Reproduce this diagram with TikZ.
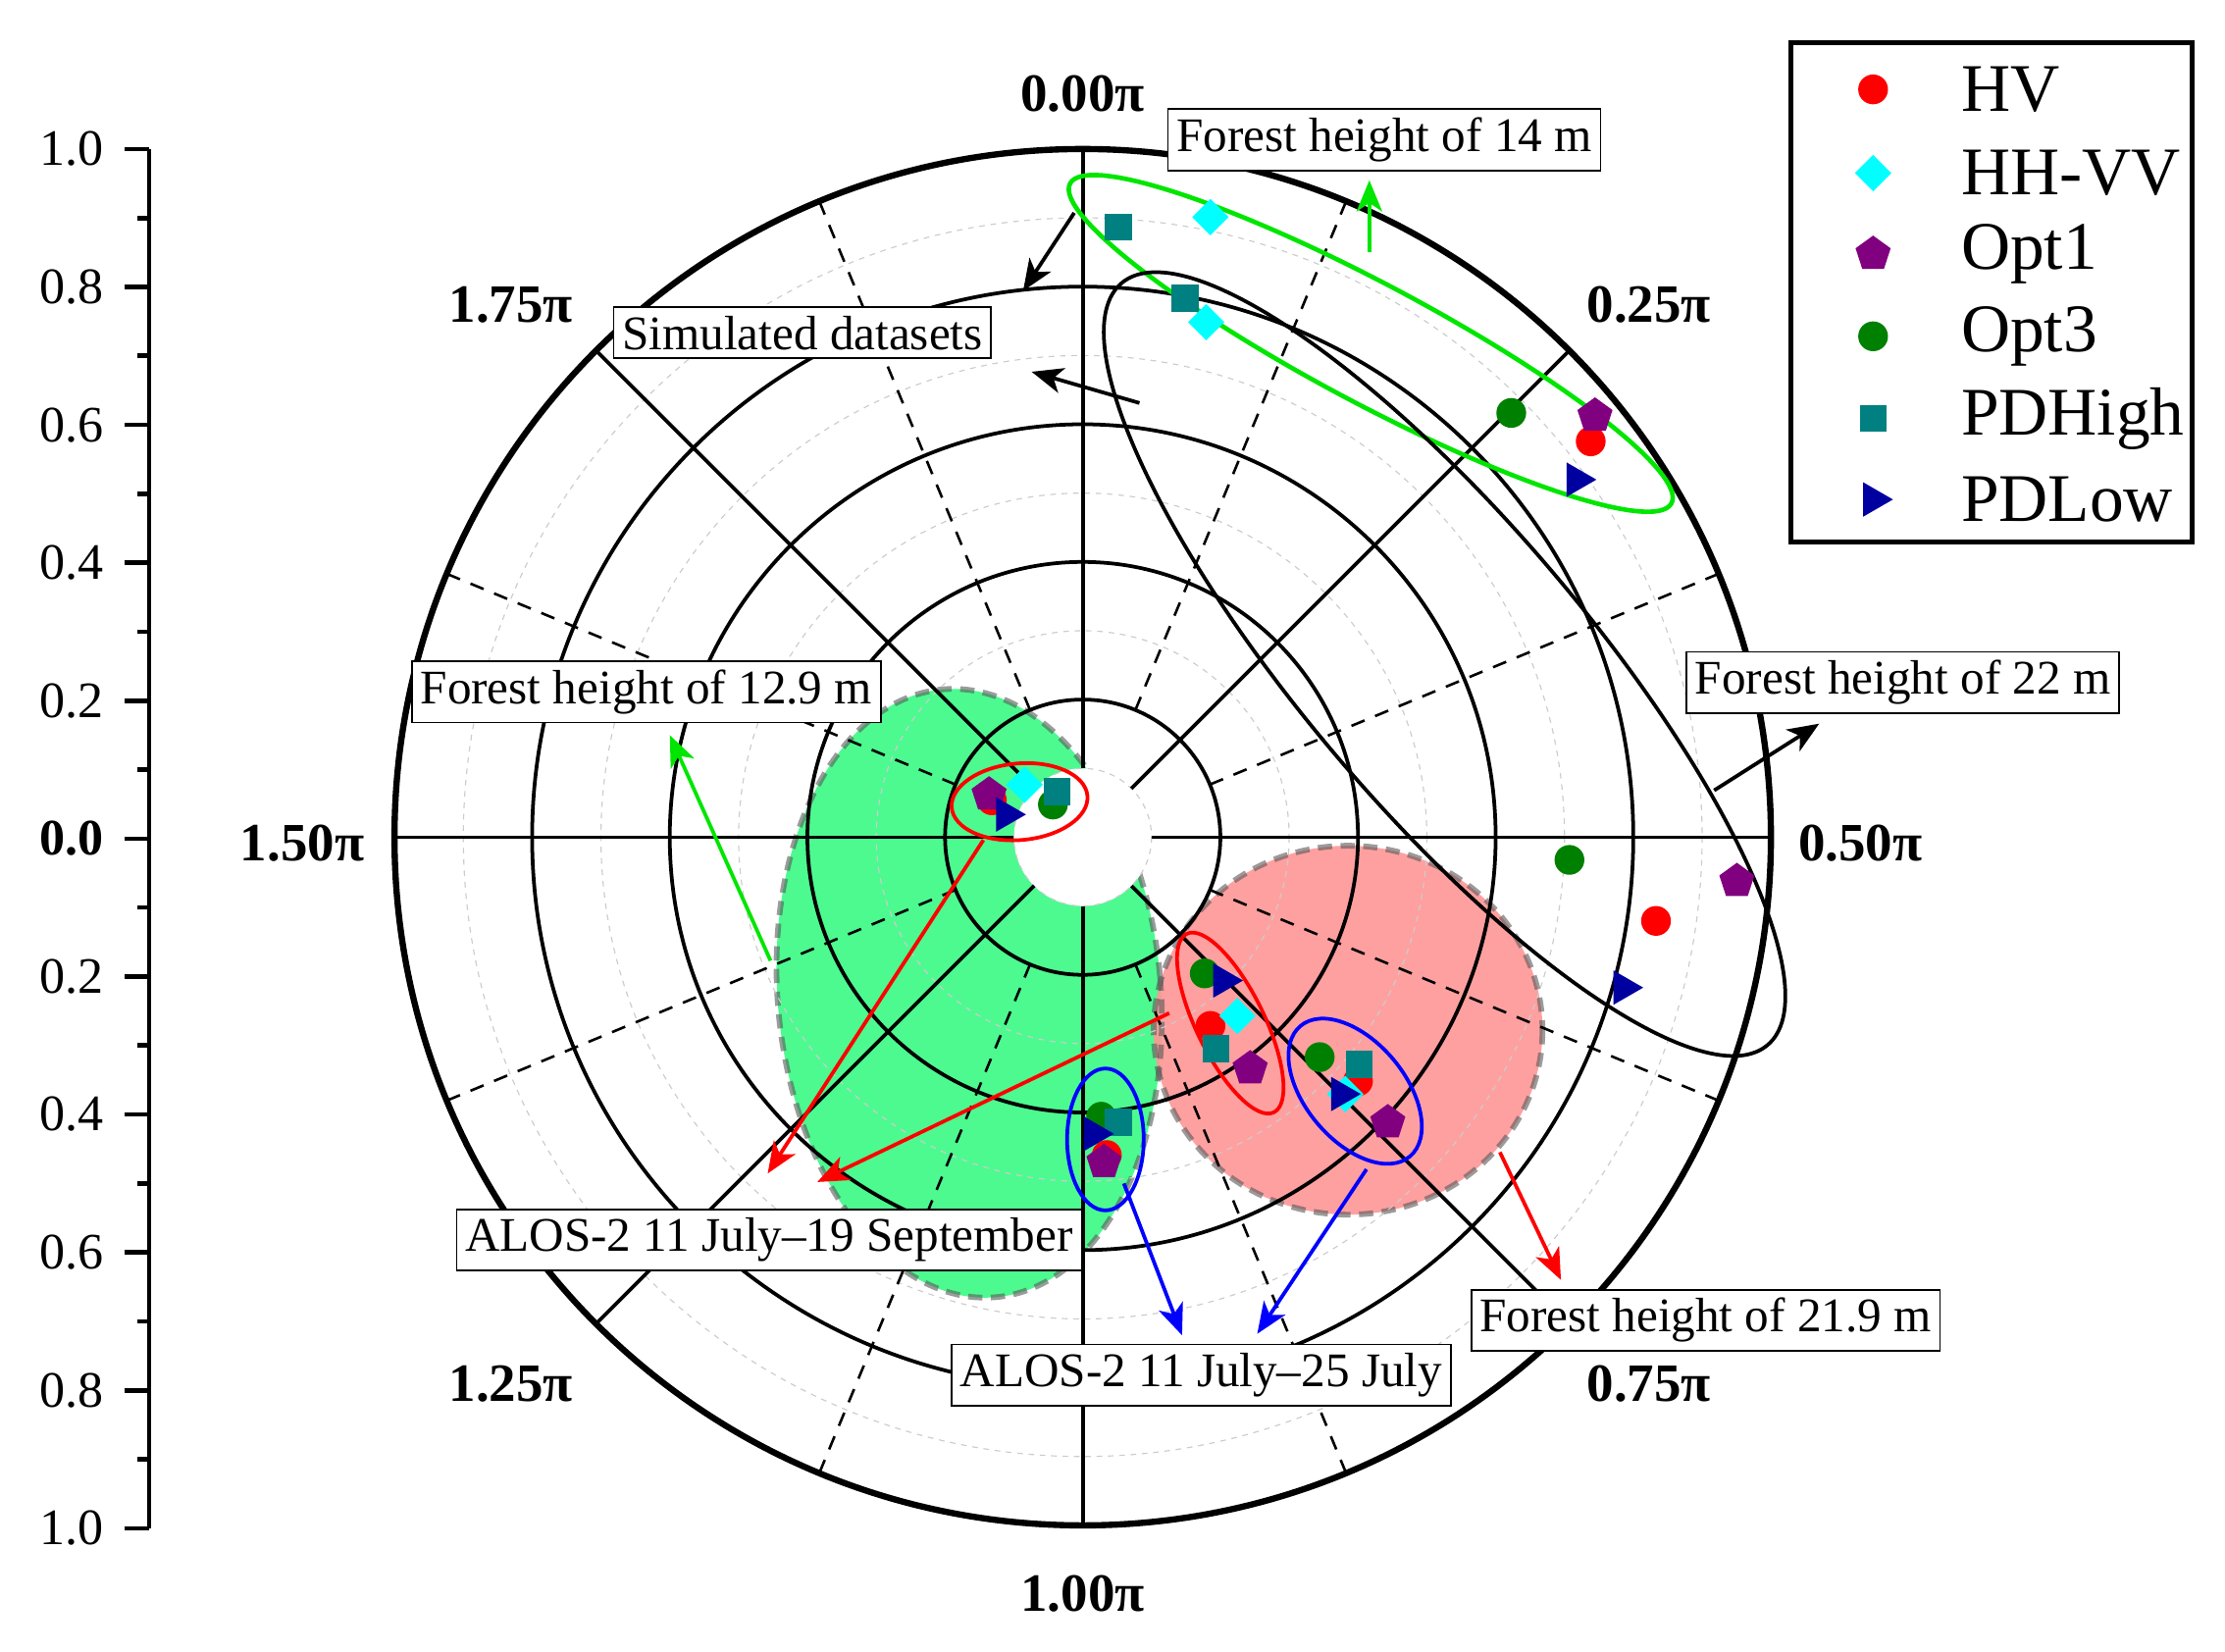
\documentclass[tikz,border=0pt]{standalone}
\usepackage{fontspec}
\setmainfont{Liberation Serif}
\usetikzlibrary{shapes.geometric,arrows.meta,calc}
\definecolor{gfill}{RGB}{77,250,144}
\definecolor{rfill}{RGB}{255,150,150}
\definecolor{lgreen}{RGB}{0,230,0}
\definecolor{mgreen}{RGB}{0,128,0}
\definecolor{mteal}{RGB}{0,128,128}
\definecolor{mnavy}{RGB}{0,0,160}
\definecolor{mpurple}{RGB}{128,0,128}
\definecolor{mcyan}{RGB}{0,255,255}
\begin{document}
\begin{tikzpicture}[x=0.5pt,y=-0.5pt,
  lab/.style={draw,fill=white,font=\fontsize{17}{19}\selectfont,inner sep=3pt,line width=0.6pt},
  albl/.style={font=\bfseries\fontsize{19}{21}\selectfont},
  tlbl/.style={font=\fontsize{18}{20}\selectfont,anchor=east},
  legt/.style={font=\fontsize{24}{26}\selectfont,anchor=west},
  mHV/.style={circle,fill=red,inner sep=0,minimum size=10.5pt},
  mHH/.style={diamond,fill=mcyan,inner sep=0,minimum size=13pt},
  mO1/.style={regular polygon,regular polygon sides=5,fill=mpurple,inner sep=0,minimum size=13pt},
  mO3/.style={circle,fill=mgreen,inner sep=0,minimum size=10.5pt},
  mPH/.style={rectangle,fill=mteal,inner sep=0,minimum size=9.5pt},
  mPL/.style={regular polygon,regular polygon sides=3,shape border rotate=-90,fill=mnavy,inner sep=0,minimum size=14pt},
  arr/.style={line width=1.3pt,-{Stealth[length=11pt,width=9pt,inset=3pt]}},
  grd/.style={gray!40,line width=0.4pt,dash pattern=on 2pt off 2pt},
  ring/.style={line width=1.3pt}]
\useasboundingbox (0,0) rectangle (1568,1164);
\coordinate (O) at (763,590);
% fills
\fill[gfill] (683,700) [rotate around={5:(683,700)}] ellipse [x radius=135,y radius=215];
\fill[rfill,opacity=0.9] (950,726) ellipse [x radius=137,y radius=130];
\draw[gray!70!black,line width=2pt,dash pattern=on 5pt off 3pt,opacity=0.6] (683,700) [rotate around={5:(683,700)}] ellipse [x radius=135,y radius=215];
\draw[gray!70!black,line width=2pt,dash pattern=on 5pt off 3pt,opacity=0.6] (950,726) ellipse [x radius=137,y radius=130];
\fill[white] (O) circle [radius=48.5];
% grid
\foreach \r in {0.1,0.3,0.5,0.7,0.9} \draw[grd] (O) circle [radius=485*\r];
\foreach \r in {0.2,0.4,0.6,0.8} \draw[ring] (O) circle [radius=485*\r];
\draw[line width=2.2pt] (O) circle [radius=485];
\foreach \a in {0,45,...,315} \draw[ring] ($(O)+({48.5*sin(\a)},{-48.5*cos(\a)})$) -- ($(O)+({485*sin(\a)},{-485*cos(\a)})$);
\foreach \a in {22.5,67.5,...,337.5} \draw[line width=0.9pt,dash pattern=on 5pt off 4pt] ($(O)+({97*sin(\a)},{-97*cos(\a)})$) -- ($(O)+({485*sin(\a)},{-485*cos(\a)})$);
% angle labels
\node[albl] (a0) at (763,66) {0.00π};
\node[albl] (a1) at (1162,215) {0.25π};
\node[albl] (a2) at (1311,594) {0.50π};
\node[albl] (a3) at (1162,975) {0.75π};
\node[albl] (a4) at (763,1123) {1.00π};
\node[albl] (a5) at (360,975) {1.25π};
\node[albl] (a6) at (213,594) {1.50π};
\node[albl] (a7) at (360,215) {1.75π};
% left axis
\draw[line width=1.6pt] (105,105) -- (105,1077);
\foreach \i in {0,...,20} {
  \pgfmathsetmacro{\yy}{105+\i*48.6}
  \ifodd\i \draw[line width=1.6pt] (105,\yy) -- (97,\yy);
  \else \draw[line width=1.6pt] (105,\yy) -- (88,\yy); \fi }
\foreach \i/\t in {0/1.0,1/0.8,2/0.6,3/0.4,4/0.2,6/0.2,7/0.4,8/0.6,9/0.8,10/1.0}
  \node[tlbl] (t\i) at (80,105+\i*97.2) {\t};
\node[tlbl,font=\bfseries\fontsize{18}{20}\selectfont] (t5) at (80,591) {0.0};
% cluster ellipses
\draw[lgreen,line width=1.6pt] (966,242) [rotate around={-28:(966,242)}] ellipse [x radius=240,y radius=42];
\draw[line width=1.3pt] (1018,468) [rotate around={-49.7:(1018,468)}] ellipse [x radius=352,y radius=100];
\draw[red,line width=1.3pt] (718.5,565) [rotate around={5:(718.5,565)}] ellipse [x radius=48,y radius=27];
\draw[red,line width=1.3pt] (867,721) [rotate around={-64:(867,721)}] ellipse [x radius=70,y radius=24];
\draw[blue,line width=1.3pt] (779,803) ellipse [x radius=27,y radius=50];
\draw[blue,line width=1.3pt] (955,769) [rotate around={-50:(955,769)}] ellipse [x radius=60,y radius=35];
% markers
\foreach \n/\x/\y in {h1/1121/311,h2/1167/649,h3/699/564,h4/853/723,h5/957/762,h6/780/814} \node[mHV] (\n) at (\x,\y) {};
\foreach \n/\x/\y in {g1/1065/291,g2/1106/606,g3/742/567,g4/849/686,g5/930/745,g6/776/787} \node[mO3] (\n) at (\x,\y) {};
\foreach \n/\x/\y in {s1/788/160,s2/835/210,s3/745/558,s4/857/739,s5/958/750,s6/788/791} \node[mPH] (\n) at (\x,\y) {};
\foreach \n/\x/\y in {d1/853/153,d2/850/227,d3/722/553,d4/872/716,d5/948/771} \node[mHH] (\n) at (\x,\y) {};
\foreach \n/\x/\y in {p1/1124/293,p2/1224/621,p3/697/560,p4/881/753,p5/978/791,p6/778/819} \node[mO1] (\n) at (\x,\y) {};
\foreach \n/\x/\y in {l1/1111/338,l2/1144/696,l3/709/574,l4/862/691,l5/945/771,l6/771/799} \node[mPL] (\n) at (\x,\y) {};
% labels
\node[lab] (f14) at (975.5,98.5) {Forest height of 14 m};
\node[lab] (sim) at (565.5,234.5) {Simulated datasets};
\node[lab] (f129) at (455.5,487.5) {Forest height of 12.9 m};
\node[lab] (f22) at (1341,481) {Forest height of 22 m};
\node[lab] (al19) at (542,874) {ALOS-2 11 July--19 September};
\node[lab] (f219) at (1202,930.5) {Forest height of 21.9 m};
\node[lab] (al25) at (846.5,969) {ALOS-2 11 July--25 July};
% arrows
\coordinate (ga) at (965,178); \coordinate (gb) at (965,127);
\draw[arr,lgreen] (ga) -- (gb);
\coordinate (ka) at (757,150); \coordinate (kb) at (721,205);
\draw[arr] (ka) -- (kb);
\coordinate (kc) at (803,284); \coordinate (kd) at (727,262);
\draw[arr] (kc) -- (kd);
\coordinate (ke) at (1208,557); \coordinate (kf) at (1282,510);
\draw[arr] (ke) -- (kf);
\coordinate (gc) at (543,677); \coordinate (gd) at (472,518);
\draw[arr,lgreen] (gc) -- (gd);
\coordinate (ra) at (693,592); \coordinate (rb) at (541,827);
\draw[arr,red] (ra) -- (rb);
\coordinate (rc) at (824,714); \coordinate (rd) at (576,833);
\draw[arr,red] (rc) -- (rd);
\coordinate (re) at (1057,812); \coordinate (rf) at (1100,902);
\draw[arr,red] (re) -- (rf);
\coordinate (ba) at (792,834); \coordinate (bb) at (833,941);
\draw[arr,blue] (ba) -- (bb);
\coordinate (bc) at (963,824); \coordinate (bd) at (886,940);
\draw[arr,blue] (bc) -- (bd);
% legend
\draw[line width=1.6pt] (1262,30) rectangle (1545,382);
\node[mHV] (k1) at (1320,63) {}; \node[legt] (k1t) at (1375,63) {HV};
\node[mHH] (k2) at (1320,122) {}; \node[legt] (k2t) at (1375,122) {HH-VV};
\node[mO1] (k3) at (1320,179) {}; \node[legt] (k3t) at (1375,179) {Opt1};
\node[mO3] (k4) at (1320,237) {}; \node[legt] (k4t) at (1375,237) {Opt3};
\node[mPH] (k5) at (1320,295) {}; \node[legt] (k5t) at (1375,295) {PDHigh};
\node[mPL] (k6) at (1320,352) {}; \node[legt] (k6t) at (1375,352) {PDLow};
\end{tikzpicture}
\end{document}
